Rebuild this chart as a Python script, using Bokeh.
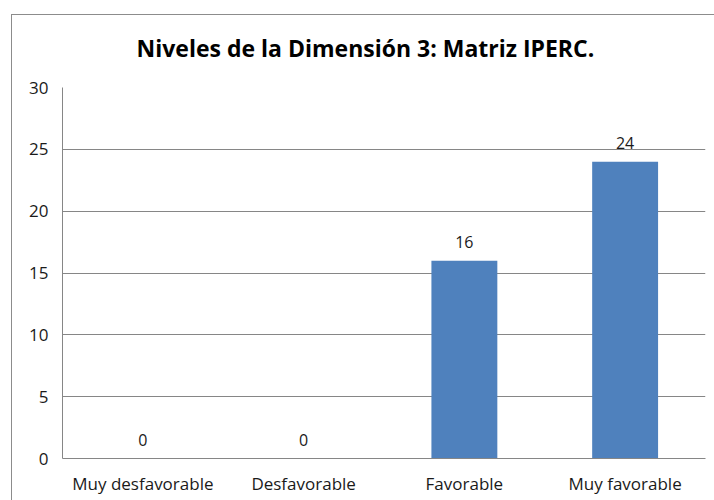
from bokeh.plotting import figure
from bokeh.models import ColumnDataSource, FactorRange, Range1d, FixedTicker, LabelSet
from bokeh.core.properties import value
from bokeh.embed import file_html
from bokeh.resources import INLINE

categories = ["Muy desfavorable", "Desfavorable", "Favorable", "Muy favorable"]
values = [0, 0, 16, 24]
y_ticks = [0, 5, 10, 15, 20, 25, 30]
title_text = "Niveles de la Dimensión 3: Matriz IPERC."

FONT = "Open Sans"
GRID = "#868686"
TEXT = "#1a1a1a"

src = ColumnDataSource(dict(cat=categories, val=values, lab=[str(v) for v in values]))

p = figure(width=703, height=497, output_backend="svg", toolbar_location=None,
           x_range=FactorRange(*categories, range_padding=0),
           y_range=Range1d(0, 30),
           min_border_left=51, min_border_right=9, min_border_top=84, min_border_bottom=42,
           title=title_text)
p.margin = (3, 0, 0, 11)
p.border_fill_color = None
p.background_fill_color = "#ffffff"
p.styles = {"box-shadow": "inset 0 11px 0 0 #ffffff, inset 0 12px 0 0 #8c8c8c, inset 1px 0 0 0 #8c8c8c"}

p.vbar(x="cat", top="val", width=0.41, source=src, fill_color="#4F81BD", line_color=None)

labels = LabelSet(x="cat", y="val", text="lab", source=src, y_offset=19,
                  text_align="center", text_baseline="middle",
                  text_font=value(FONT), text_font_size=value("16px"), text_color=value(TEXT))
p.add_layout(labels)

p.title.text_font = FONT
p.title.text_font_size = "23px"
p.title.text_font_style = "bold"
p.title.text_color = "#000000"
p.title.align = "left"
p.title.offset = 74
p.title.standoff = 48

p.outline_line_color = None
p.xgrid.grid_line_color = None
p.ygrid.grid_line_color = GRID
p.ygrid.grid_line_width = 1
p.yaxis.ticker = FixedTicker(ticks=y_ticks)

for ax in (p.xaxis, p.yaxis):
    ax.axis_line_color = GRID
    ax.major_tick_line_color = None
    ax.minor_tick_line_color = None
    ax.major_tick_out = 0
    ax.major_tick_in = 0
    ax.major_label_text_font = FONT
    ax.major_label_text_font_size = "17px"
    ax.major_label_text_color = TEXT
p.yaxis.major_label_standoff = 14
p.xaxis.major_label_standoff = 13

open("out.html", "w").write(file_html(p, INLINE))
